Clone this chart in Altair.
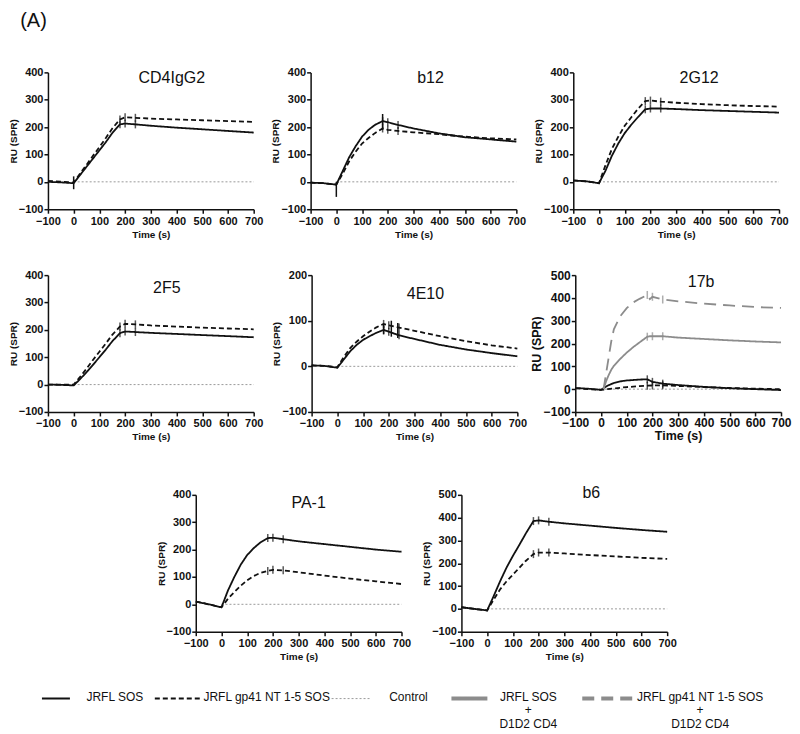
import altair as alt
import pandas as pd

# ---------------- data ----------------
T = [-100, -50, 0, 25, 50, 75, 100, 125, 150, 180, 200, 240, 300, 400, 500, 600, 700]

names = ["CD4IgG2", "b12", "2G12", "2F5", "4E10", "17b", "PA-1", "b6"]

solid = {
    "CD4IgG2": [0, -2, -5, 25, 55, 85, 115, 145, 178, 210, 213, 210, 205, 198, 192, 186, 180],
    "b12":     [-3, -5, -10, 40, 90, 130, 165, 190, 208, 222, 218, 208, 195, 177, 163, 155, 147],
    "2G12":    [5, 2, -5, 40, 95, 140, 178, 208, 235, 265, 268, 268, 266, 262, 259, 256, 253],
    "2F5":     [0, -1, -3, 20, 45, 72, 100, 128, 158, 188, 194, 192, 189, 185, 181, 177, 173],
    "4E10":    [2, 1, -3, 15, 33, 47, 58, 66, 73, 80, 76, 68, 60, 47, 37, 29, 22],
    "17b":     [5, 2, -3, 15, 27, 34, 38, 40, 42, 43, 32, 24, 18, 10, 4, 0, -4],
    "PA-1":    [10, 0, -11, 50, 100, 145, 180, 205, 225, 242, 243, 238, 230, 220, 210, 200, 192],
    "b6":      [7, 0, -7, 55, 120, 180, 232, 280, 330, 385, 388, 382, 375, 365, 355, 346, 338],
}
dashed = {
    "CD4IgG2": [3, 1, -3, 30, 62, 95, 127, 160, 195, 228, 236, 234, 231, 228, 225, 222, 219],
    "b12":     [-3, -5, -10, 30, 75, 110, 140, 160, 178, 195, 190, 186, 181, 174, 165, 159, 155],
    "2G12":    [5, 2, -5, 60, 120, 165, 205, 235, 265, 295, 297, 293, 289, 284, 280, 277, 275],
    "2F5":     [0, 0, 0, 28, 58, 90, 120, 150, 182, 212, 222, 220, 216, 212, 208, 205, 202],
    "4E10":    [2, 1, -2, 20, 40, 54, 66, 76, 85, 93, 90, 85, 78, 66, 55, 46, 39],
    "17b":     [3, 0, -3, 0, 3, 6, 9, 11, 13, 15, 16, 17, 14, 9, 5, 2, 0],
    "PA-1":    [10, 0, -11, 20, 45, 68, 88, 103, 114, 122, 126, 124, 117, 105, 94, 84, 74],
    "b6":      [7, 0, -7, 40, 85, 120, 150, 180, 210, 240, 247, 247, 243, 236, 230, 224, 219],
}

# 17b with D1D2 CD4 (grey curves)
gray_t = [10, 20, 30, 40, 50, 75, 100, 125, 150, 180, 190, 200, 240, 300, 400, 500, 600, 700]
gray_solid = [0, 35, 62, 85, 102, 133, 160, 184, 205, 230, 232, 232, 232, 226, 220, 214, 209, 205]
gray_dashed = [0, 70, 140, 210, 262, 320, 355, 380, 396, 413, 395, 405, 393, 385, 375, 367, 360, 356]

y_max = {"CD4IgG2": 400, "b12": 400, "2G12": 400, "2F5": 400, "4E10": 200,
         "17b": 500, "PA-1": 400, "b6": 500}

marker_t = [180, 200, 240]

# injection spikes: (panel, time, low, high)
spikes = [("CD4IgG2", 0, -27, 20), ("b12", 180, 190, 248), ("b12", 0, -55, 0),
          ("4E10", 180, 70, 92), ("4E10", 210, 65, 100), ("4E10", 235, 62, 95)]

series = ["JRFL SOS", "JRFL gp41 NT 1-5 SOS", "JRFL SOS + D1D2 CD4", "JRFL gp41 NT 1-5 SOS + D1D2 CD4"]
s_color = ["#111111", "#111111", "#8c8c8c", "#8c8c8c"]
s_dash = [[1, 0], [5, 3], [1, 0], [12, 7]]
s_width = [1.8, 1.8, 4, 4]

x_ticks = [-100, 0, 100, 200, 300, 400, 500, 600, 700]

# panel title positions (centre, relative to plot area)
title_pos = {"CD4IgG2": (124, 6), "b12": (120, 6), "2G12": (126, 6), "2F5": (119, 13),
             "4E10": (114, 19), "17b": (126, 7), "PA-1": (113, 8), "b6": (130, -2)}

W, H = 206, 137
FONT = "Liberation Sans"


def panel(name):
    big = name == "17b"
    rows = []
    for s, vals in ((series[0], solid[name]), (series[1], dashed[name])):
        rows += [dict(t=t, v=v, s=s) for t, v in zip(T, vals)]
    if big:
        rows += [dict(t=t, v=v, s=series[2]) for t, v in zip(gray_t, gray_solid)]
        rows += [dict(t=t, v=v, s=series[3]) for t, v in zip(gray_t, gray_dashed)]
    df = pd.DataFrame(rows)
    ym = y_max[name]
    yt = list(range(-100, ym + 1, 100))
    lf = 12 if big else 11
    tf = 12.5 if big else 10
    xscale = alt.Scale(domain=[-100, 700], nice=False)
    xaxis = alt.Axis(values=x_ticks, title="Time (s)", labelFontSize=lf, labelPadding=2,
                     titleFontSize=tf, titlePadding=3 if not big else 1)
    yscale = alt.Scale(domain=[-100, ym], nice=False)
    yaxis = alt.Axis(values=yt, title="RU (SPR)", labelFontSize=lf, titleFontSize=tf, titlePadding=0)
    x = alt.X("t:Q", scale=xscale, axis=xaxis)
    y = alt.Y("v:Q", scale=yscale, axis=yaxis)
    col = alt.Color("s:N", scale=alt.Scale(domain=series, range=s_color), legend=None)
    dash = alt.StrokeDash("s:N", scale=alt.Scale(domain=series, range=s_dash), legend=None)
    sw = alt.StrokeWidth("s:N", scale=alt.Scale(domain=series, range=s_width), legend=None)

    ctrl = pd.DataFrame({"t": [0, 700], "v": [0, 0]})
    control = alt.Chart(ctrl).mark_line(color="#9a9a9a", strokeDash=[2, 2], strokeWidth=1).encode(x=x, y=y)
    lines = alt.Chart(df).mark_line().encode(x=x, y=y, color=col, strokeDash=dash, strokeWidth=sw)
    mk = df[df.t.isin(marker_t)]
    markers = alt.Chart(mk).mark_tick(orient="vertical", size=8, thickness=1.5).encode(x=x, y=y, color=col)
    layers = [control, lines, markers]
    sp = [dict(t=t, v=lo, hi=hi) for (p, t, lo, hi) in spikes if p == name]
    if sp:
        layers.append(alt.Chart(pd.DataFrame(sp)).mark_rule(color="#111111", strokeWidth=1.5)
                      .encode(x=x, y=y, y2="hi:Q"))
    tx, ty = title_pos[name]
    layers.append(alt.Chart(pd.DataFrame({"n": [name]})).mark_text(
        font=FONT, fontSize=16, baseline="middle", align="center", color="#111111")
        .encode(text="n:N", x=alt.value(tx), y=alt.value(ty)))
    return alt.layer(*layers).properties(width=W, height=H)


def spacer(w, h):
    return alt.Chart(pd.DataFrame({"a": [0]})).mark_point(opacity=0).encode(
        x=alt.X("a:Q", axis=None), y=alt.Y("a:Q", axis=None)).properties(width=w, height=h)


# ---------------- legend ----------------
leg_lines = pd.DataFrame({
    "x": [-6, 22, 107, 153, 284, 322, 404, 440, 535, 589],
    "y": [12, 12, 12, 12, 12, 12, 12, 12, 12, 12],
    "k": ["a", "a", "b", "b", "c", "c", "d", "d", "e", "e"],
})
leg_style = {"a": ("#111111", [1, 0], 2), "b": ("#111111", [5, 3], 2), "c": ("#9a9a9a", [2, 2], 1),
             "d": ("#8c8c8c", [1, 0], 4), "e": ("#8c8c8c", [12, 7], 4)}
leg_text = pd.DataFrame({
    "x": [67, 219, 361, 481, 653],
    "y": [5, 5, 5, 5, 5],
    "t": ["JRFL SOS", "JRFL gp41 NT 1-5 SOS", "Control", "JRFL SOS\n+\nD1D2 CD4",
          "JRFL gp41 NT 1-5 SOS\n+\nD1D2 CD4"],
})
leg_layers = []
for k, (c, d, w) in leg_style.items():
    leg_layers.append(alt.Chart(leg_lines[leg_lines.k == k]).mark_line(color=c, strokeDash=d, strokeWidth=w)
                      .encode(x=alt.X("x:Q", scale=None, axis=None), y=alt.Y("y:Q", scale=None, axis=None)))
leg_layers.append(alt.Chart(leg_text).mark_text(font=FONT, fontSize=12, color="#111111", baseline="top",
                                                align="center", lineBreak="\n", lineHeight=13.5)
                  .encode(x=alt.X("x:Q", scale=None, axis=None), y=alt.Y("y:Q", scale=None, axis=None), text="t:N"))
legend = alt.layer(*leg_layers).properties(width=700, height=40)

row1 = alt.hconcat(panel("CD4IgG2"), panel("b12"), panel("2G12"), spacing=57, bounds="flush")
row2 = alt.hconcat(panel("2F5"), panel("4E10"), panel("17b"), spacing=58, bounds="flush")
row3 = alt.hconcat(spacer(88, H), panel("PA-1"), panel("b6"), spacing=60, bounds="flush")

chart = alt.vconcat(row1, spacer(10, 30), row2, spacer(10, 42), row3, spacer(10, 25), legend,
                    spacing=0).properties(
    title=alt.TitleParams("(A)", anchor="start", fontSize=20, fontWeight="normal", font=FONT,
                          color="#111111", offset=35, dx=12),
    padding={"left": 0, "top": 3, "right": 0, "bottom": 0},
).configure_view(stroke=None).configure_axis(
    grid=False, domainColor="#111111", domainWidth=1.5, tickColor="#111111", tickWidth=1.5,
    tickSize=4, labelFont=FONT, labelFontWeight="bold", labelColor="#111111", labelPadding=1,
    labelOverlap=False, labelFlush=False, labelBound=False,
    titleFont=FONT, titleFontWeight="bold", titleColor="#111111",
).configure_concat(spacing=0)

chart.save("out.html", embed_options={"renderer": "svg", "actions": False})
